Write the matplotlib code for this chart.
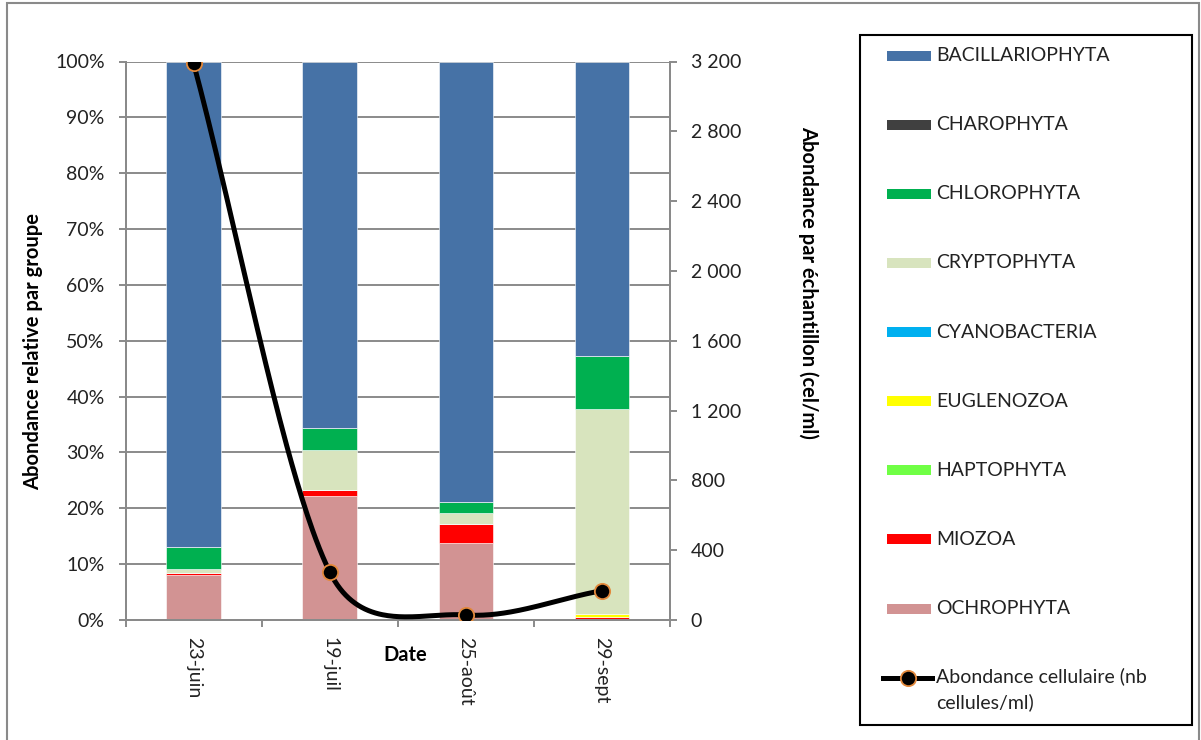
import numpy as np
import matplotlib
matplotlib.use("Agg")
import matplotlib.pyplot as plt
from matplotlib.patches import Rectangle
from matplotlib.lines import Line2D
from matplotlib.ticker import FixedLocator, FuncFormatter

plt.rcParams['font.family'] = ['Lato', 'DejaVu Sans']

# ---- data -------------------------------------------------------------
dates = ["23-juin", "19-juil", "25-août", "29-sept"]

groups = ["BACILLARIOPHYTA", "CHAROPHYTA", "CHLOROPHYTA", "CRYPTOPHYTA",
          "CYANOBACTERIA", "EUGLENOZOA", "HAPTOPHYTA", "MIOZOA", "OCHROPHYTA"]

# relative abundance (%) per group and sampling date
bacillariophyta = [87.0, 65.7, 78.8, 52.7]
charophyta      = [0.0, 0.0, 0.0, 0.0]
chlorophyta     = [3.8, 3.9, 2.0, 9.6]
cryptophyta     = [0.7, 7.1, 2.0, 36.7]
cyanobacteria   = [0.0, 0.0, 0.0, 0.0]
euglenozoa      = [0.0, 0.0, 0.0, 0.5]
haptophyta      = [0.0, 0.0, 0.0, 0.0]
miozoa          = [0.4, 1.1, 3.4, 0.4]
ochrophyta      = [8.1, 22.2, 13.8, 0.1]

# total cell abundance (cells/ml)
abundance = [3190, 276, 29, 168]

colors = {
    "BACILLARIOPHYTA": "#4672A6",
    "CHAROPHYTA": "#404040",
    "CHLOROPHYTA": "#00B050",
    "CRYPTOPHYTA": "#D8E4BE",
    "CYANOBACTERIA": "#00B0F0",
    "EUGLENOZOA": "#FFFF00",
    "HAPTOPHYTA": "#70FF45",
    "MIOZOA": "#FF0000",
    "OCHROPHYTA": "#D29393",
}
series = {
    "BACILLARIOPHYTA": bacillariophyta, "CHAROPHYTA": charophyta,
    "CHLOROPHYTA": chlorophyta, "CRYPTOPHYTA": cryptophyta,
    "CYANOBACTERIA": cyanobacteria, "EUGLENOZOA": euglenozoa,
    "HAPTOPHYTA": haptophyta, "MIOZOA": miozoa, "OCHROPHYTA": ochrophyta,
}

FS = 14
TXT = "#222222"

# ---- figure -----------------------------------------------------------
W, H, DPI = 1201, 740, 100
fig = plt.figure(figsize=(W / DPI, H / DPI), dpi=DPI)

def fx(px):
    return px / W

def fy(py):
    return 1 - py / H

ax_l, ax_r, ax_t, ax_b = 125.5, 670, 61.5, 620
ax = fig.add_axes([fx(ax_l), fy(ax_b), fx(ax_r) - fx(ax_l), fy(ax_t) - fy(ax_b)])
ax2 = ax.twinx()

grid_c = "#8A8A8A"
x = np.arange(len(dates))

# stacked bars, bottom group first
bottom = np.zeros(len(dates))
for g in groups[::-1]:
    v = np.array(series[g], dtype=float)
    ax.bar(x, v, width=0.4, bottom=bottom, color=colors[g],
           edgecolor="white", linewidth=0.4, zorder=2)
    bottom += v

ax.set_xlim(-0.5, len(dates) - 0.5)
ax.set_ylim(0, 100)
ax.set_yticks(np.arange(0, 101, 10))
ax.yaxis.set_major_formatter(FuncFormatter(lambda v, p: f"{v:.0f}%"))
ax.yaxis.grid(True, color=grid_c, linewidth=1.4)
ax.set_axisbelow(True)

# category boundaries carry the tick marks, labels sit at the centres
ax.xaxis.set_major_locator(FixedLocator(np.arange(-0.5, len(dates), 1.0)))
ax.xaxis.set_major_formatter(FuncFormatter(lambda v, p: ""))
ax.xaxis.set_minor_locator(FixedLocator(x))
ax.set_xticklabels(dates, minor=True, rotation=270, fontsize=FS)
ax.tick_params(axis="x", which="major", length=5, width=1.4, color=grid_c, direction="out")
ax.tick_params(axis="x", which="minor", length=0, pad=12)
ax.tick_params(axis="y", length=5, width=1.4, color=grid_c, labelsize=FS, pad=10,
               labelcolor=TXT)
for lab in ax.get_xticklabels(minor=True):
    lab.set_va("top")
    lab.set_color(TXT)

for a in (ax, ax2):
    a.spines["top"].set_visible(False)
    for s in ("left", "right", "bottom"):
        a.spines[s].set_color(grid_c)
        a.spines[s].set_linewidth(1.4)

ax2.set_ylim(0, 3200)
ax2.set_yticks(np.arange(0, 3201, 400))
ax2.yaxis.set_major_formatter(FuncFormatter(lambda v, p: f"{int(v):,}".replace(",", " ")))
ax2.tick_params(axis="y", length=5, width=1.4, color=grid_c, labelsize=FS, pad=10,
                labelcolor=TXT)

# smoothed abundance curve (Bezier through the points, built in pixel space)
sx = (ax_r - ax_l) / len(dates)
sy = (ax_b - ax_t) / 3200.0
P = np.column_stack([x * sx, np.array(abundance, float) * sy])
n = len(P)

def unit(v):
    return v / np.linalg.norm(v)

ctrl_out, ctrl_in = [None] * n, [None] * n
for i in range(n):
    if 0 < i < n - 1:
        d = P[i + 1] - P[i - 1]
        u = unit(d)
        base = np.linalg.norm(d) / 6
        lf = min(base, 0.5 * np.linalg.norm(P[i + 1] - P[i]))
        lb = min(base, 0.5 * np.linalg.norm(P[i] - P[i - 1]))
        ctrl_out[i] = P[i] + u * lf
        ctrl_in[i] = P[i] - u * lb
ctrl_out[0] = P[0] + (P[1] - P[0]) / 3
ctrl_in[-1] = P[-1] - (P[-1] - P[-2]) / 3

t = np.linspace(0, 1, 80)[:, None]
curve = []
for i in range(n - 1):
    a, b, c, d = P[i], ctrl_out[i], ctrl_in[i + 1], P[i + 1]
    seg = (1 - t) ** 3 * a + 3 * (1 - t) ** 2 * t * b + 3 * (1 - t) * t ** 2 * c + t ** 3 * d
    curve.append(seg if i == 0 else seg[1:])
curve = np.vstack(curve)

LW, MS = 3.6, 11
ax2.plot(curve[:, 0] / sx, curve[:, 1] / sy, color="black", linewidth=LW,
         solid_capstyle="round", zorder=3)
ax2.plot(x, abundance, linestyle="none", marker="o", markersize=MS,
         markerfacecolor="black", markeredgecolor="#E3893C", markeredgewidth=1.3,
         zorder=4)

# axis titles
fig.text(fx(33), fy(352), "Abondance relative par groupe", rotation=90,
         ha="center", va="center", fontsize=FS + 0.5, fontweight="bold")
fig.text(fx(808), fy(282), "Abondance par échantillon (cel/ml)", rotation=270,
         ha="center", va="center", fontsize=FS + 0.5, fontweight="bold")
fig.text(fx(405), fy(655), "Date", ha="center", va="center", fontsize=FS + 0.5,
         fontweight="bold")

# legend
fig.add_artist(Rectangle((fx(860), fy(725)), fx(1192) - fx(860), fy(35) - fy(725),
                         transform=fig.transFigure, fill=False, edgecolor="black",
                         linewidth=1.5))
row0, step = 55.7, 69.1
for k, g in enumerate(groups):
    yc = row0 + k * step
    fig.add_artist(Rectangle((fx(887), fy(yc + 5)), fx(931) - fx(887), fy(yc - 5) - fy(yc + 5),
                             transform=fig.transFigure, facecolor=colors[g],
                             edgecolor="none"))
    fig.text(fx(936), fy(yc), g, ha="left", va="center", fontsize=FS, color=TXT)
yc = row0 + len(groups) * step
fig.add_artist(Line2D([fx(883), fx(932)], [fy(yc), fy(yc)], transform=fig.transFigure,
                      color="black", linewidth=LW))
fig.add_artist(Line2D([fx(908)], [fy(yc)], transform=fig.transFigure, marker="o",
                      markersize=MS, markerfacecolor="black",
                      markeredgecolor="#E3893C", markeredgewidth=1.3))
fig.text(fx(936), fy(yc - 10), "Abondance cellulaire (nb\ncellules/ml)", ha="left",
         va="top", fontsize=FS, color=TXT, linespacing=1.55)

# outer chart frame
fig.add_artist(Rectangle((fx(7), fy(745)), fx(1199) - fx(7), fy(3) - fy(745),
                         transform=fig.transFigure, fill=False, edgecolor="#8A8A8A",
                         linewidth=1.5))

fig.savefig("out.png", dpi=DPI)
